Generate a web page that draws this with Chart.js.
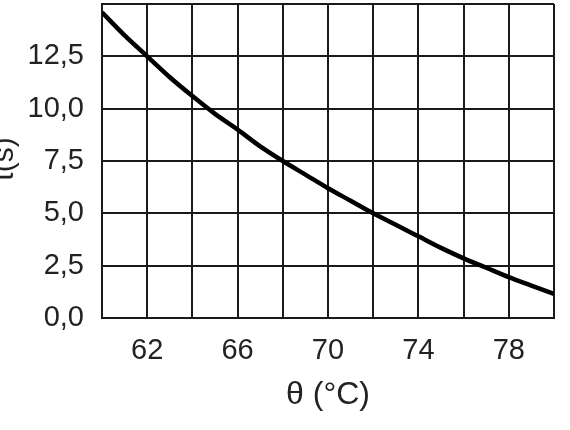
<!DOCTYPE html>
<html>
<head>
<meta charset="utf-8">
<script src="https://cdn.jsdelivr.net/npm/chart.js@4/dist/chart.umd.min.js"></script>
<style>
    html, body { margin: 0; padding: 0; background: #fff; }
    #wrap { width: 570px; height: 430px; }
</style>
</head>
<body>
<div id="wrap"><canvas id="curve" width="570" height="430"></canvas></div>
<script>
// temperature (°C) and time (s)
const temps = [60, 61, 62, 63, 64, 65, 66, 67, 68, 69, 70, 71, 72, 73, 74, 75, 76, 77, 78, 79, 80];
const times = [14.6, 13.5, 12.5, 11.5, 10.6, 9.75, 9.0, 8.2, 7.5, 6.85, 6.2, 5.6, 5.0, 4.45, 3.9, 3.35, 2.85, 2.4, 1.95, 1.55, 1.15];
const xLabels = [62, 66, 70, 74, 78];
const yTitle = 't(s)';
const xTitle = 'θ (°C)';

const ink = '#1a1a1a';
const textColor = '#222';
const fontFamily = '"Liberation Sans", Arial, sans-serif';

// y title sits partly off the left edge in the reference
const yTitlePlugin = {
    id: 'yTitle',
    afterDraw: (chart) => {
        const { ctx, chartArea } = chart;
        ctx.save();
        ctx.translate(13, (chartArea.top + chartArea.bottom) / 2 - 2);
        ctx.rotate(-Math.PI / 2);
        ctx.fillStyle = textColor;
        ctx.font = `30px ${fontFamily}`;
        ctx.textAlign = 'center';
        ctx.textBaseline = 'alphabetic';
        ctx.fillText(yTitle, 0, 0);
        ctx.restore();
    },
};

const ctx = document.getElementById('curve');
new Chart(ctx, {
    type: 'line',
    data: {
        datasets: [{
            data: temps.map((t, i) => ({ x: t, y: times[i] })),
            borderColor: '#000',
            borderWidth: 4.5,
            pointRadius: 0,
            cubicInterpolationMode: 'monotone',
        }],
    },
    options: {
        responsive: false,
        animation: false,
        layout: { padding: { top: 4, right: 14, left: 0, bottom: 0 } },
        plugins: { legend: { display: false }, tooltip: { enabled: false } },
        scales: {
            x: {
                type: 'linear',
                min: 60,
                max: 80,
                grid: { color: ink, lineWidth: 2, drawTicks: false },
                border: { color: ink, width: 2 },
                ticks: {
                    stepSize: 2,
                    padding: 16,
                    color: textColor,
                    font: { family: fontFamily, size: 29 },
                    maxRotation: 0,
                    autoSkip: false,
                    callback: (v) => (xLabels.includes(v) ? String(v) : ''),
                },
                title: {
                    display: true,
                    text: xTitle,
                    color: textColor,
                    font: { family: fontFamily, size: 32 },
                    padding: { top: 0, bottom: 16 },
                },
                afterFit: (s) => { s.height = 112; },
            },
            y: {
                min: 0,
                max: 15,
                grid: { color: ink, lineWidth: 2, drawTicks: false },
                border: { color: ink, width: 2 },
                ticks: {
                    stepSize: 2.5,
                    padding: 18,
                    color: textColor,
                    font: { family: fontFamily, size: 29 },
                    callback: (v) => (v === 15 ? '' : v.toFixed(1).replace('.', ',')),
                },
                afterFit: (s) => { s.width = 102; s.paddingTop = 0; s.paddingBottom = 0; },
            },
        },
    },
    plugins: [yTitlePlugin],
});
</script>
</body>
</html>
